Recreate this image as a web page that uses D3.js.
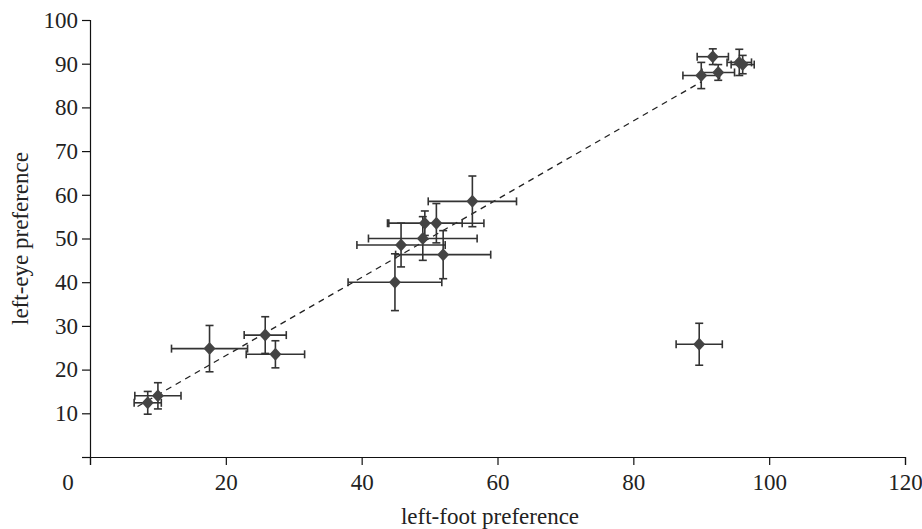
<!DOCTYPE html>
<html>
<head>
<meta charset="utf-8">
<script src="https://cdn.jsdelivr.net/npm/d3@7"></script>
<style>
  body { margin: 0; background: #fff; }
  text { font-family: "Liberation Serif", "DejaVu Serif", serif; fill: #222; }
</style>
</head>
<body>
<script>
const width = 922;
const height = 529;

// left-foot vs left-eye preference, mean with error in each direction
const footPref = [8.5, 10.0, 17.6, 25.8, 27.3, 44.9, 45.8, 49.0, 49.3, 51.0, 52.0, 56.3, 89.7, 90.0, 91.7, 92.5, 95.6, 96.1];
const eyePref  = [12.4, 14.0, 24.8, 27.9, 23.5, 40.0, 48.5, 50.0, 53.5, 53.5, 46.3, 58.5, 25.8, 87.3, 91.6, 88.0, 90.3, 89.8];
const footErr  = [2.0, 3.4, 5.6, 3.1, 4.3, 6.9, 6.5, 8.0, 5.5, 7.0, 7.0, 6.5, 3.4, 2.7, 2.3, 2.4, 1.8, 1.7];
const eyeErr   = [2.6, 3.0, 5.3, 4.2, 3.1, 6.5, 5.0, 5.0, 2.8, 4.5, 5.5, 5.8, 4.8, 3.0, 1.8, 1.8, 3.0, 2.1];

const xTicks = [0, 20, 40, 60, 80, 100, 120];
const yTicks = [0, 10, 20, 30, 40, 50, 60, 70, 80, 90, 100];

// dashed fit line (intercept, slope) and its x range
const fitLine = [5.3, 0.895];
const fitRange = [7, 90];

const fontSize = 23;

const svg = d3.select('body').append('svg').attr('width', width).attr('height', height);

const x = d3.scaleLinear().domain([0, 120]).range([90, 905]);
const y = d3.scaleLinear().domain([0, 100]).range([457, 20]);

const data = footPref.map((f, i) => ({x: f, y: eyePref[i], ex: footErr[i], ey: eyeErr[i]}));

// axes
const xAxis = svg.append('g')
  .attr('transform', `translate(0,${y(0)})`)
  .call(d3.axisBottom(x).tickValues(xTicks).tickSizeOuter(0).tickSize(8).tickPadding(9).tickFormat(d => d === 0 ? '' : d));
const yAxis = svg.append('g')
  .attr('transform', `translate(${x(0)},0)`)
  .call(d3.axisLeft(y).tickValues(yTicks).tickSizeOuter(0).tickSize(8).tickPadding(4).tickFormat(d => d === 0 ? '' : d));

[xAxis, yAxis].forEach(a => {
  a.selectAll('path, line').attr('stroke', '#111').attr('stroke-width', 1.2);
  a.selectAll('text').attr('font-size', fontSize).attr('font-family', '"Liberation Serif", serif').attr('fill', '#222');
});

// shared origin label
svg.append('text').attr('x', 68).attr('y', 490).attr('text-anchor', 'middle').attr('font-size', fontSize).text('0');

svg.append('text')
  .attr('x', 490).attr('y', 524)
  .attr('text-anchor', 'middle').attr('font-size', fontSize)
  .text('left-foot preference');
svg.append('text')
  .attr('transform', `translate(28,${(y(0) + y(100)) / 2}) rotate(-90)`)
  .attr('text-anchor', 'middle').attr('font-size', fontSize)
  .text('left-eye preference');

// fit line
svg.append('line')
  .attr('x1', x(fitRange[0])).attr('y1', y(fitLine[0] + fitLine[1] * fitRange[0]))
  .attr('x2', x(fitRange[1])).attr('y2', y(fitLine[0] + fitLine[1] * fitRange[1]))
  .attr('stroke', '#222').attr('stroke-width', 1.3).attr('stroke-dasharray', '6,5');

// error bars
const cap = 4;
const g = svg.append('g').attr('stroke', '#333').attr('stroke-width', 1.6);
data.forEach(d => {
  g.append('line').attr('x1', x(d.x - d.ex)).attr('x2', x(d.x + d.ex)).attr('y1', y(d.y)).attr('y2', y(d.y));
  g.append('line').attr('x1', x(d.x)).attr('x2', x(d.x)).attr('y1', y(d.y - d.ey)).attr('y2', y(d.y + d.ey));
  [d.x - d.ex, d.x + d.ex].forEach(v => {
    g.append('line').attr('x1', x(v)).attr('x2', x(v)).attr('y1', y(d.y) - cap).attr('y2', y(d.y) + cap);
  });
  [d.y - d.ey, d.y + d.ey].forEach(v => {
    g.append('line').attr('x1', x(d.x) - cap).attr('x2', x(d.x) + cap).attr('y1', y(v)).attr('y2', y(v));
  });
});

// diamond markers
svg.selectAll('.pt')
  .data(data)
  .enter()
  .append('path')
  .attr('class', 'pt')
  .attr('d', 'M0,-6.5L6,0L0,6.5L-6,0Z')
  .attr('transform', d => `translate(${x(d.x)},${y(d.y)})`)
  .attr('fill', '#444');
</script>
</body>
</html>
